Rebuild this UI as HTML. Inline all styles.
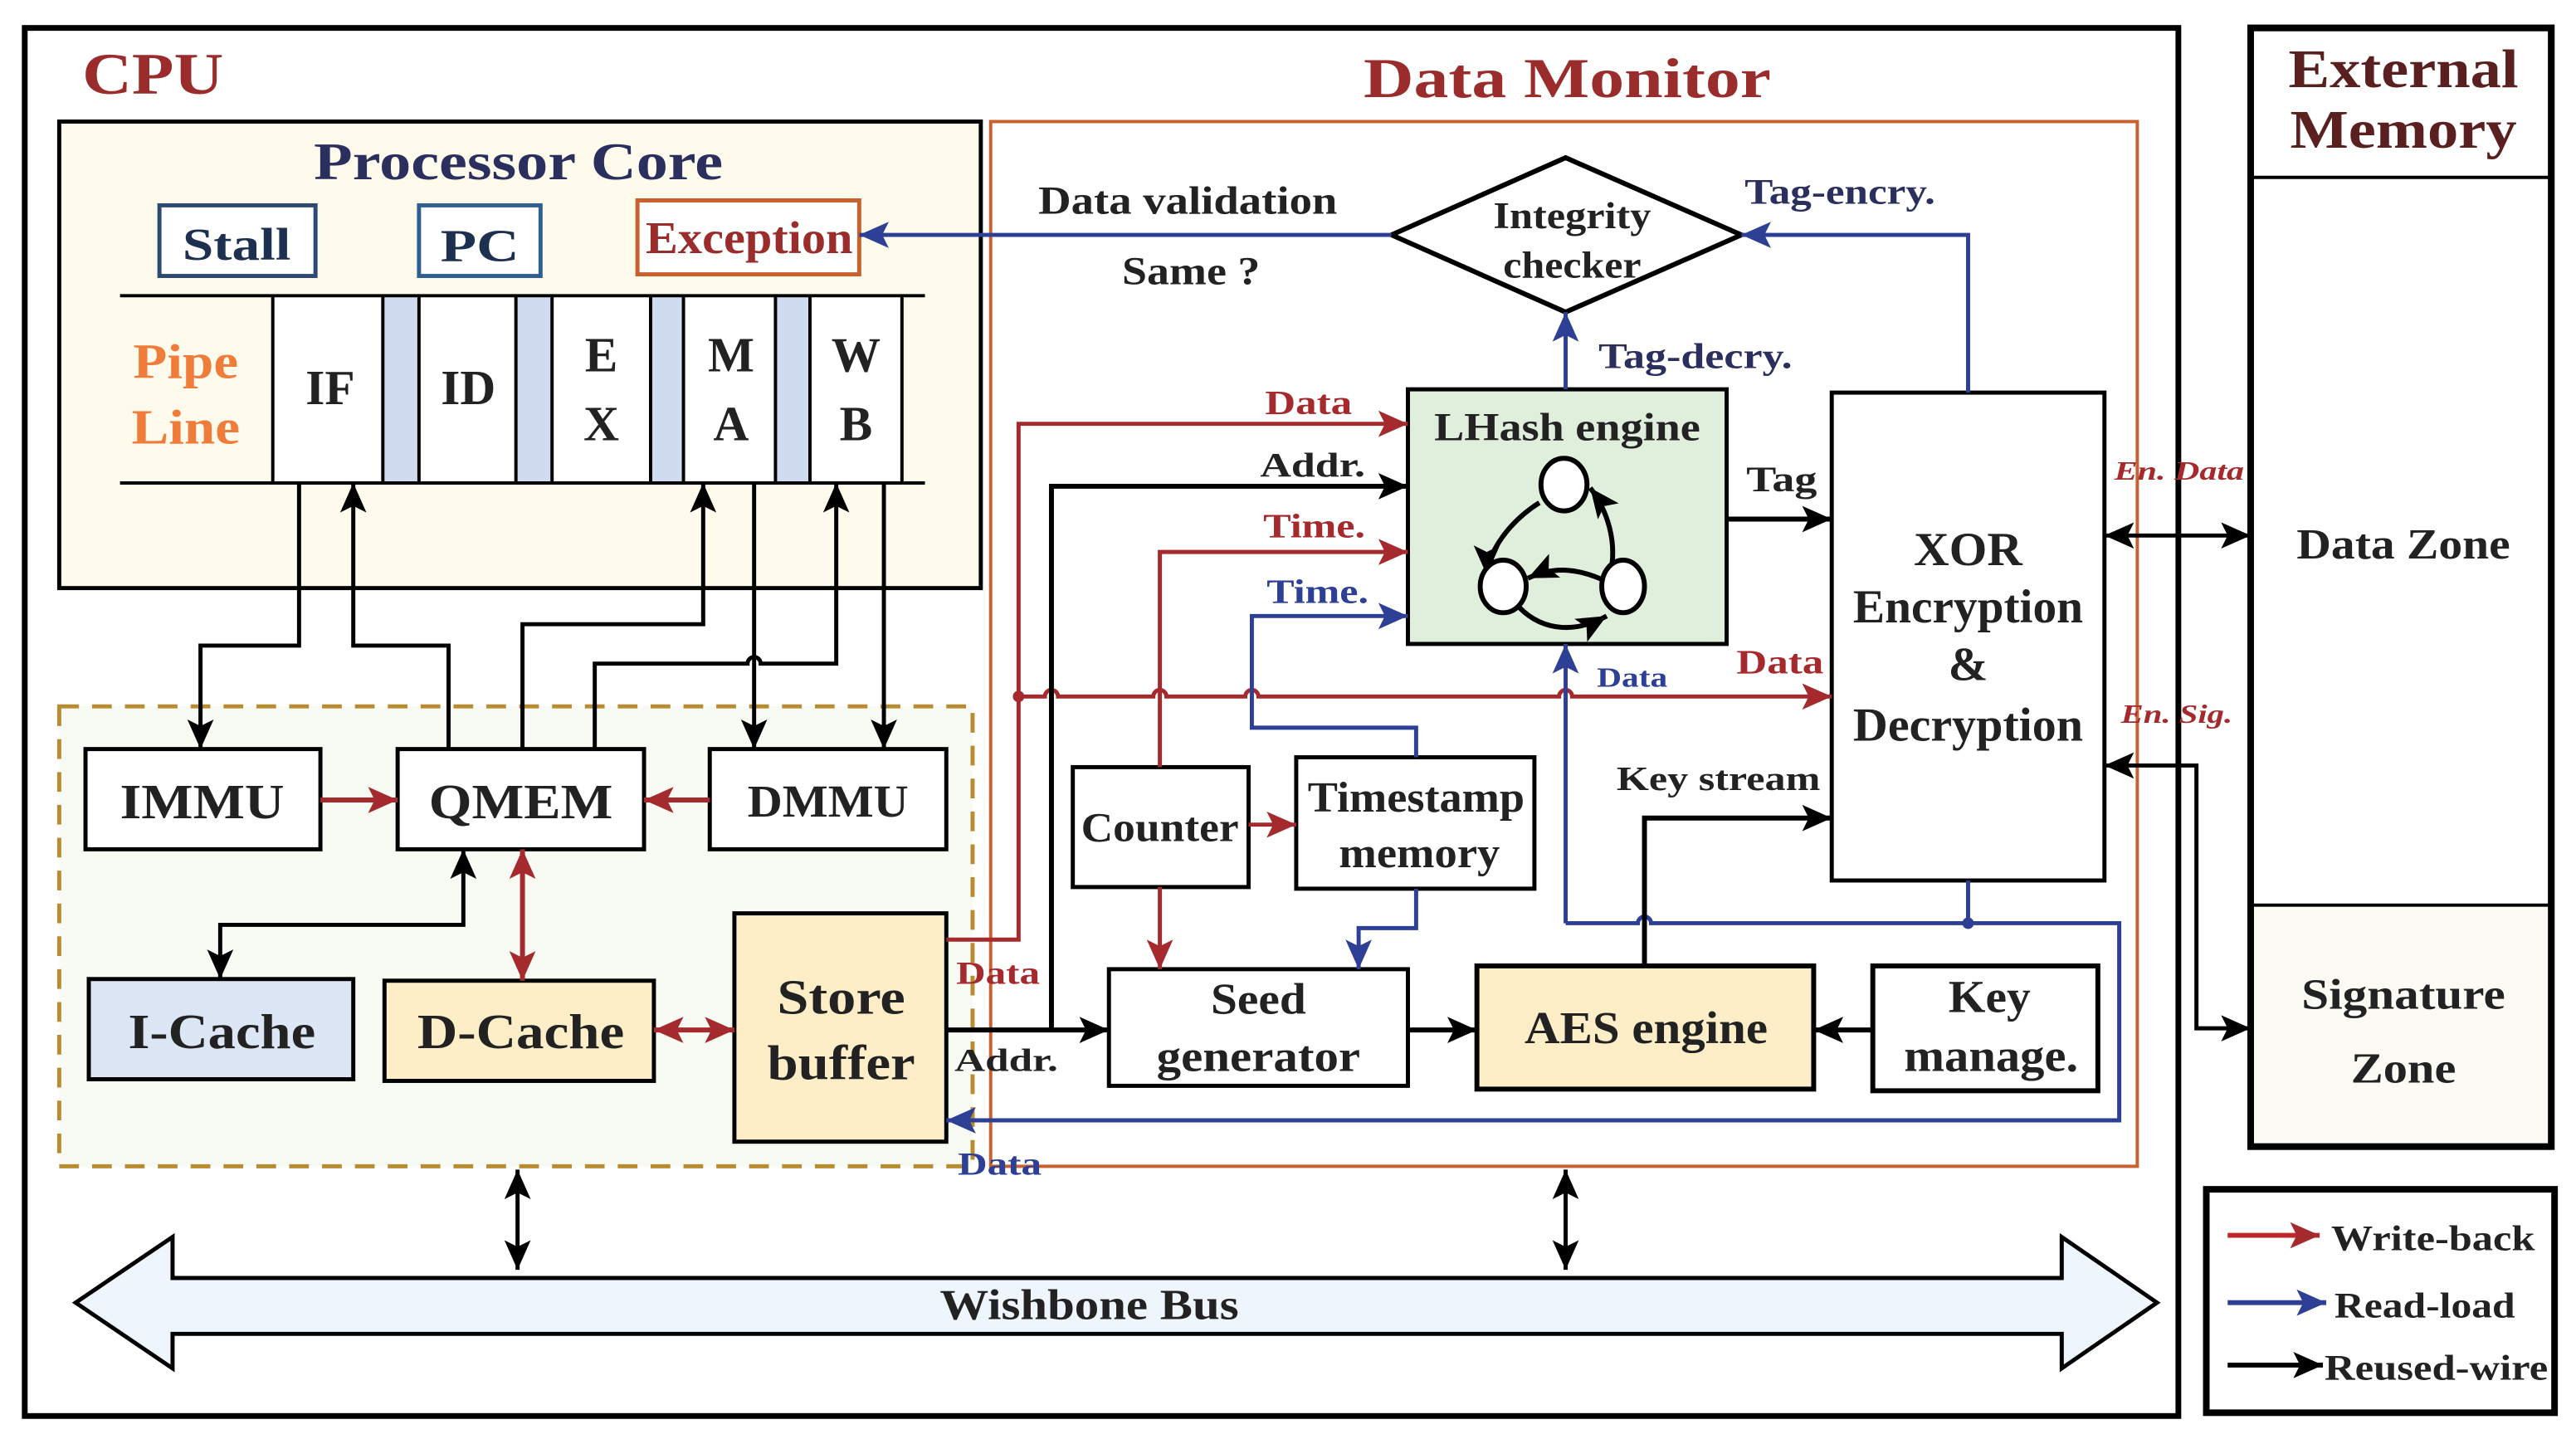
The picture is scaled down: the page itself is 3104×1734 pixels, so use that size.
<!DOCTYPE html>
<html><head><meta charset="utf-8"><style>
html,body{margin:0;padding:0;background:#fff}
svg{display:block}
text{font-family:"Liberation Serif","Times New Roman",serif;font-weight:bold}
</style></head><body>
<svg width="3104" height="1734" viewBox="0 0 1568 876" xmlns="http://www.w3.org/2000/svg">
<defs>
<marker id="ak" markerUnits="userSpaceOnUse" markerWidth="20" markerHeight="20" viewBox="0 0 20 20" refX="18" refY="10" orient="auto-start-reverse"><path d="M0,2 L18,10 L0,18 L4,10 Z" fill="#000"/></marker>
<marker id="ar" markerUnits="userSpaceOnUse" markerWidth="20" markerHeight="20" viewBox="0 0 20 20" refX="18" refY="10" orient="auto-start-reverse"><path d="M0,2 L18,10 L0,18 L4,10 Z" fill="#a52a2e"/></marker>
<marker id="ab" markerUnits="userSpaceOnUse" markerWidth="20" markerHeight="20" viewBox="0 0 20 20" refX="18" refY="10" orient="auto-start-reverse"><path d="M0,2 L18,10 L0,18 L4,10 Z" fill="#2e3f96"/></marker>
</defs>

<rect x="15" y="17" width="1311" height="845" fill="#fff" stroke="#000" stroke-width="3.5"/>
<text x="50" y="57" font-size="36" fill="#9a2c2c" textLength="86" lengthAdjust="spacingAndGlyphs">CPU</text>
<text x="830" y="59" font-size="34" fill="#9a2c2c" textLength="248" lengthAdjust="spacingAndGlyphs">Data Monitor</text>

<rect x="36" y="74" width="561" height="284" fill="#fefbec" stroke="#000" stroke-width="2.5"/>
<text x="191" y="109" font-size="32" fill="#2a2f5e" textLength="249" lengthAdjust="spacingAndGlyphs">Processor Core</text>
<rect x="97" y="125" width="95" height="43" fill="#fff" stroke="#2c4a72" stroke-width="2.5"/>
<text x="111" y="158" font-size="28" fill="#1e3050" textLength="66" lengthAdjust="spacingAndGlyphs">Stall</text>
<rect x="255" y="125" width="74" height="43" fill="#fff" stroke="#2e6090" stroke-width="2.5"/>
<text x="268" y="159" font-size="28" fill="#1e3050" textLength="48" lengthAdjust="spacingAndGlyphs">PC</text>
<rect x="388" y="122" width="135" height="45" fill="#fff" stroke="#c8612e" stroke-width="2.5"/>
<text x="393" y="154" font-size="28" fill="#9a2c2c" textLength="126" lengthAdjust="spacingAndGlyphs">Exception</text>

<rect x="166" y="180" width="384" height="114" fill="#fff"/>
<rect x="233" y="180" width="22" height="114" fill="#cfdcef"/>
<rect x="314" y="180" width="22" height="114" fill="#cfdcef"/>
<rect x="396" y="180" width="20" height="114" fill="#cfdcef"/>
<rect x="472" y="180" width="21" height="114" fill="#cfdcef"/>
<g stroke="#000" stroke-width="2">
<line x1="73" y1="180" x2="563" y2="180"/><line x1="73" y1="294" x2="563" y2="294"/>
<line x1="166" y1="180" x2="166" y2="294"/><line x1="233" y1="180" x2="233" y2="294"/><line x1="255" y1="180" x2="255" y2="294"/>
<line x1="314" y1="180" x2="314" y2="294"/><line x1="336" y1="180" x2="336" y2="294"/><line x1="396" y1="180" x2="396" y2="294"/>
<line x1="416" y1="180" x2="416" y2="294"/><line x1="472" y1="180" x2="472" y2="294"/><line x1="493" y1="180" x2="493" y2="294"/>
<line x1="549" y1="180" x2="549" y2="294"/>
</g>
<text x="81" y="230" font-size="30" fill="#f07c3a" textLength="64" lengthAdjust="spacingAndGlyphs">Pipe</text>
<text x="80" y="270" font-size="30" fill="#f07c3a" textLength="66" lengthAdjust="spacingAndGlyphs">Line</text>
<g font-size="30" fill="#222" text-anchor="middle">
<text x="201" y="246">IF</text><text x="285" y="246">ID</text>
<text x="366" y="226">E</text><text x="366" y="268">X</text>
<text x="445" y="226">M</text><text x="445" y="268">A</text>
<text x="521" y="226">W</text><text x="521" y="268">B</text>
</g>

<rect x="36" y="430" width="556" height="280" fill="#f8faf4" stroke="#b88c30" stroke-width="2.5" stroke-dasharray="12,8"/>
<rect x="52" y="456" width="143" height="61" fill="#fff" stroke="#000" stroke-width="2.5"/>
<text x="123" y="498" font-size="30" fill="#222" text-anchor="middle" textLength="100" lengthAdjust="spacingAndGlyphs">IMMU</text>
<rect x="242" y="456" width="150" height="61" fill="#fff" stroke="#000" stroke-width="2.5"/>
<text x="317" y="498" font-size="30" fill="#222" text-anchor="middle" textLength="112" lengthAdjust="spacingAndGlyphs">QMEM</text>
<rect x="432" y="456" width="144" height="61" fill="#fff" stroke="#000" stroke-width="2.5"/>
<text x="504" y="497" font-size="28" fill="#222" text-anchor="middle" textLength="98" lengthAdjust="spacingAndGlyphs">DMMU</text>
<rect x="54" y="596" width="161" height="61" fill="#dce6f5" stroke="#000" stroke-width="2.5"/>
<text x="135" y="638" font-size="30" fill="#222" text-anchor="middle" textLength="114" lengthAdjust="spacingAndGlyphs">I-Cache</text>
<rect x="234" y="597" width="164" height="61" fill="#fdeec8" stroke="#000" stroke-width="2.5"/>
<text x="317" y="638" font-size="30" fill="#222" text-anchor="middle" textLength="126" lengthAdjust="spacingAndGlyphs">D-Cache</text>
<rect x="447" y="556" width="129" height="139" fill="#fdeec8" stroke="#000" stroke-width="2.5"/>
<text x="512" y="617" font-size="30" fill="#222" text-anchor="middle" textLength="78" lengthAdjust="spacingAndGlyphs">Store</text>
<text x="512" y="657" font-size="30" fill="#222" text-anchor="middle" textLength="90" lengthAdjust="spacingAndGlyphs">buffer</text>

<rect x="603" y="74" width="698" height="636" fill="none" stroke="#c8612e" stroke-width="2"/>

<g stroke="#000" stroke-width="2.5" fill="none">
<polyline points="182,294 182,393 122,393 122,456" marker-end="url(#ak)"/>
<polyline points="273,456 273,393 215,393 215,294" marker-end="url(#ak)"/>
<polyline points="318,456 318,380 428,380 428,294" marker-end="url(#ak)"/>
<path d="M362,456 L362,404 L455,404 A4,4 0 0 1 463,404 L509,404 L509,294" marker-end="url(#ak)"/>
<line x1="459" y1="294" x2="459" y2="456" marker-end="url(#ak)"/>
<line x1="538" y1="294" x2="538" y2="456" marker-end="url(#ak)"/>
<polyline points="134,596 134,563 282,563 282,517" marker-start="url(#ak)" marker-end="url(#ak)"/>
<line x1="315" y1="712" x2="315" y2="773" marker-start="url(#ak)" marker-end="url(#ak)"/>
<line x1="953" y1="712" x2="953" y2="773" marker-start="url(#ak)" marker-end="url(#ak)"/>
</g>
<g stroke="#a52a2e" stroke-width="3" fill="none">
<line x1="195" y1="487" x2="242" y2="487" marker-end="url(#ar)"/>
<line x1="432" y1="487" x2="392" y2="487" marker-end="url(#ar)"/>
<line x1="318" y1="517" x2="318" y2="597" marker-start="url(#ar)" marker-end="url(#ar)"/>
<line x1="398" y1="627" x2="447" y2="627" marker-start="url(#ar)" marker-end="url(#ar)"/>
</g>

<polygon points="847,143 953,96 1060,143 953,190" fill="#fff" stroke="#000" stroke-width="3"/>
<text x="957" y="139" font-size="23" fill="#222" text-anchor="middle" textLength="96" lengthAdjust="spacingAndGlyphs">Integrity</text>
<text x="957" y="169" font-size="23" fill="#222" text-anchor="middle" textLength="84" lengthAdjust="spacingAndGlyphs">checker</text>
<text x="632" y="130" font-size="24" fill="#222" textLength="182" lengthAdjust="spacingAndGlyphs">Data validation</text>
<text x="683" y="173" font-size="24" fill="#222" textLength="84" lengthAdjust="spacingAndGlyphs">Same ?</text>

<rect x="857" y="237" width="194" height="155" fill="#e0eedc" stroke="#000" stroke-width="2.5"/>
<text x="954" y="268" font-size="24" fill="#222" text-anchor="middle" textLength="162" lengthAdjust="spacingAndGlyphs">LHash engine</text>
<g stroke="#000" stroke-width="3" fill="none">
<path d="M937,306 C915,320 905,340 905,350" marker-end="url(#ak)"/>
<path d="M980,350 C985,330 978,310 968,297" marker-end="url(#ak)"/>
<path d="M980,355 C960,345 945,345 930,352" marker-end="url(#ak)"/>
<path d="M925,370 C940,385 960,385 978,375" marker-end="url(#ak)"/>
</g>
<g fill="#fff" stroke="#000" stroke-width="3">
<ellipse cx="952" cy="295" rx="14" ry="16"/><ellipse cx="915" cy="357" rx="14" ry="16"/><ellipse cx="988" cy="357" rx="13" ry="16"/>
</g>

<rect x="1115" y="239" width="166" height="297" fill="#fff" stroke="#000" stroke-width="2.5"/>
<g font-size="29" fill="#222" text-anchor="middle">
<text x="1198" y="344" textLength="66" lengthAdjust="spacingAndGlyphs">XOR</text>
<text x="1198" y="379" textLength="140" lengthAdjust="spacingAndGlyphs">Encryption</text>
<text x="1198" y="414">&amp;</text>
<text x="1198" y="451" textLength="140" lengthAdjust="spacingAndGlyphs">Decryption</text>
</g>

<rect x="653" y="467" width="107" height="73" fill="#fff" stroke="#000" stroke-width="2.5"/>
<text x="706" y="512" font-size="25" fill="#222" text-anchor="middle" textLength="96" lengthAdjust="spacingAndGlyphs">Counter</text>
<rect x="789" y="461" width="145" height="80" fill="#fff" stroke="#000" stroke-width="2.5"/>
<text x="862" y="494" font-size="26" fill="#222" text-anchor="middle" textLength="132" lengthAdjust="spacingAndGlyphs">Timestamp</text>
<text x="864" y="528" font-size="26" fill="#222" text-anchor="middle" textLength="98" lengthAdjust="spacingAndGlyphs">memory</text>
<rect x="675" y="590" width="182" height="71" fill="#fff" stroke="#000" stroke-width="2.5"/>
<text x="766" y="617" font-size="27" fill="#222" text-anchor="middle" textLength="58" lengthAdjust="spacingAndGlyphs">Seed</text>
<text x="766" y="652" font-size="27" fill="#222" text-anchor="middle" textLength="124" lengthAdjust="spacingAndGlyphs">generator</text>
<rect x="899" y="588" width="205" height="75" fill="#fdeec8" stroke="#000" stroke-width="3"/>
<text x="1002" y="635" font-size="28" fill="#222" text-anchor="middle" textLength="148" lengthAdjust="spacingAndGlyphs">AES engine</text>
<rect x="1140" y="588" width="137" height="76" fill="#fff" stroke="#000" stroke-width="3"/>
<text x="1211" y="616" font-size="28" fill="#222" text-anchor="middle" textLength="50" lengthAdjust="spacingAndGlyphs">Key</text>
<text x="1212" y="652" font-size="28" fill="#222" text-anchor="middle" textLength="106" lengthAdjust="spacingAndGlyphs">manage.</text>

<!-- Red wires -->
<g stroke="#a52a2e" stroke-width="2.5" fill="none">
<polyline points="576,572 620,572 620,258 857,258" marker-end="url(#ar)"/>
<path d="M620,424 L636,424 A4,4 0 0 1 644,424 L702,424 A4,4 0 0 1 710,424 L758,424 A4,4 0 0 1 766,424 L949,424 A4,4 0 0 1 957,424 L1115,424" marker-end="url(#ar)"/>
<polyline points="706,467 706,336 857,336" marker-end="url(#ar)"/>
<line x1="760" y1="502" x2="789" y2="502" marker-end="url(#ar)"/>
<line x1="706" y1="540" x2="706" y2="590" marker-end="url(#ar)"/>
</g>
<circle cx="620" cy="424" r="3.5" fill="#a52a2e"/>

<!-- Blue wires -->
<g stroke="#2e3f96" stroke-width="2.5" fill="none">
<line x1="847" y1="143" x2="523" y2="143" marker-end="url(#ab)"/>
<polyline points="1198,239 1198,143 1060,143" marker-end="url(#ab)"/>
<line x1="953" y1="237" x2="953" y2="190" marker-end="url(#ab)"/>
<polyline points="862,461 862,443 762,443 762,375 857,375" marker-end="url(#ab)"/>
<polyline points="862,541 862,565 827,565 827,590" marker-end="url(#ab)"/>
<line x1="953" y1="562" x2="953" y2="392" marker-end="url(#ab)"/>
<path d="M953,562 L997,562 A4,4 0 0 1 1005,562 L1290,562 L1290,682 L576,682" marker-end="url(#ab)"/>
<line x1="1198" y1="536" x2="1198" y2="562"/>
</g>
<circle cx="1198" cy="562" r="3.5" fill="#2e3f96"/>

<!-- Black wires in monitor -->
<g stroke="#000" stroke-width="3" fill="none">
<line x1="576" y1="627" x2="675" y2="627" marker-end="url(#ak)"/>
<polyline points="640,627 640,296 857,296" marker-end="url(#ak)"/>
<line x1="1051" y1="316" x2="1115" y2="316" marker-end="url(#ak)"/>
<line x1="857" y1="627" x2="899" y2="627" marker-end="url(#ak)"/>
<line x1="1140" y1="627" x2="1104" y2="627" marker-end="url(#ak)"/>
<polyline points="1001,588 1001,498 1115,498" marker-end="url(#ak)"/>
<line x1="1281" y1="326" x2="1370" y2="326" stroke-width="2.5" marker-start="url(#ak)" marker-end="url(#ak)"/>
<polyline points="1281,466 1337,466 1337,626 1370,626" stroke-width="2.5" marker-start="url(#ak)" marker-end="url(#ak)"/>
</g>

<!-- labels -->
<text x="1062" y="124" font-size="22" fill="#2a2f5e" textLength="116" lengthAdjust="spacingAndGlyphs">Tag-encry.</text>
<text x="973" y="224" font-size="22" fill="#2a2f5e" textLength="118" lengthAdjust="spacingAndGlyphs">Tag-decry.</text>
<text x="770" y="252" font-size="21" fill="#a52a2e" textLength="53" lengthAdjust="spacingAndGlyphs">Data</text>
<text x="767" y="290" font-size="21" fill="#222" textLength="64" lengthAdjust="spacingAndGlyphs">Addr.</text>
<text x="769" y="327" font-size="21" fill="#a52a2e" textLength="62" lengthAdjust="spacingAndGlyphs">Time.</text>
<text x="771" y="367" font-size="21" fill="#2e3f96" textLength="62" lengthAdjust="spacingAndGlyphs">Time.</text>
<text x="1063" y="299" font-size="22" fill="#222" textLength="43" lengthAdjust="spacingAndGlyphs">Tag</text>
<text x="1057" y="410" font-size="21" fill="#a52a2e" textLength="53" lengthAdjust="spacingAndGlyphs">Data</text>
<text x="972" y="418" font-size="17" fill="#2e3f96" textLength="43" lengthAdjust="spacingAndGlyphs">Data</text>
<text x="984" y="481" font-size="21" fill="#222" textLength="124" lengthAdjust="spacingAndGlyphs">Key stream</text>
<text x="1287" y="292" font-size="16" fill="#a52a2e" font-style="italic" textLength="79" lengthAdjust="spacingAndGlyphs">En. Data</text>
<text x="1291" y="440" font-size="16" fill="#a52a2e" font-style="italic" textLength="68" lengthAdjust="spacingAndGlyphs">En. Sig.</text>
<text x="582" y="599" font-size="20" fill="#a52a2e" textLength="51" lengthAdjust="spacingAndGlyphs">Data</text>
<text x="581" y="652" font-size="20" fill="#222" textLength="63" lengthAdjust="spacingAndGlyphs">Addr.</text>
<text x="583" y="715" font-size="20" fill="#2e3f96" textLength="51" lengthAdjust="spacingAndGlyphs">Data</text>

<polygon points="46,793 105,753 105,778 1255,778 1255,753 1313,793 1255,833 1255,812 105,812 105,833" fill="#eef5fc" stroke="#000" stroke-width="2.5"/>
<text x="663" y="803" font-size="26" fill="#222" text-anchor="middle" textLength="182" lengthAdjust="spacingAndGlyphs">Wishbone Bus</text>

<rect x="1370" y="17" width="183" height="681" fill="#fff" stroke="#000" stroke-width="4"/>
<rect x="1372" y="551" width="179" height="145" fill="#fcfaf4"/>
<line x1="1370" y1="108" x2="1553" y2="108" stroke="#000" stroke-width="2"/>
<line x1="1370" y1="551" x2="1553" y2="551" stroke="#000" stroke-width="2"/>
<rect x="1370" y="17" width="183" height="681" fill="none" stroke="#000" stroke-width="4"/>
<text x="1463" y="53" font-size="33" fill="#5a1f1f" text-anchor="middle" textLength="140" lengthAdjust="spacingAndGlyphs">External</text>
<text x="1463" y="90" font-size="33" fill="#5a1f1f" text-anchor="middle" textLength="138" lengthAdjust="spacingAndGlyphs">Memory</text>
<text x="1463" y="340" font-size="26" fill="#222" text-anchor="middle" textLength="130" lengthAdjust="spacingAndGlyphs">Data Zone</text>
<text x="1463" y="614" font-size="26" fill="#222" text-anchor="middle" textLength="124" lengthAdjust="spacingAndGlyphs">Signature</text>
<text x="1463" y="659" font-size="26" fill="#222" text-anchor="middle" textLength="64" lengthAdjust="spacingAndGlyphs">Zone</text>

<rect x="1343" y="724" width="212" height="136" fill="#fff" stroke="#000" stroke-width="4"/>
<line x1="1356" y1="752" x2="1412" y2="752" stroke="#c0272d" stroke-width="3" marker-end="url(#ar)"/>
<line x1="1356" y1="793" x2="1416" y2="793" stroke="#2e3f96" stroke-width="3" marker-end="url(#ab)"/>
<line x1="1356" y1="831" x2="1414" y2="831" stroke="#000" stroke-width="3" marker-end="url(#ak)"/>
<text x="1419" y="761" font-size="22" fill="#222" textLength="124" lengthAdjust="spacingAndGlyphs">Write-back</text>
<text x="1421" y="802" font-size="22" fill="#222" textLength="110" lengthAdjust="spacingAndGlyphs">Read-load</text>
<text x="1415" y="840" font-size="22" fill="#222" textLength="136" lengthAdjust="spacingAndGlyphs">Reused-wire</text>
</svg>
</body></html>
